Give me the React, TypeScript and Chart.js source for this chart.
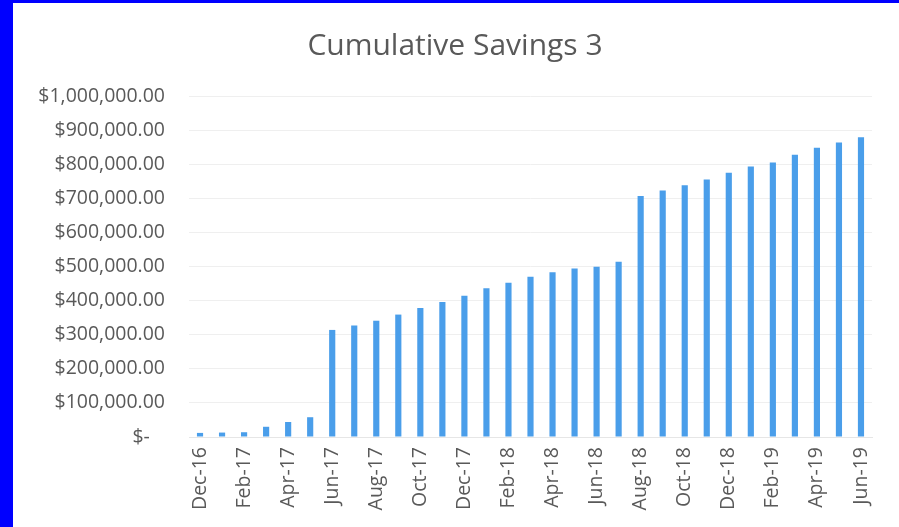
import React, { useEffect, useRef } from "react";
import { Chart, registerables } from "chart.js";

Chart.register(...registerables);

const months: string[] = [
  "Dec-16", "Jan-17", "Feb-17", "Mar-17", "Apr-17", "May-17", "Jun-17", "Jul-17",
  "Aug-17", "Sep-17", "Oct-17", "Nov-17", "Dec-17", "Jan-18", "Feb-18", "Mar-18",
  "Apr-18", "May-18", "Jun-18", "Jul-18", "Aug-18", "Sep-18", "Oct-18", "Nov-18",
  "Dec-18", "Jan-19", "Feb-19", "Mar-19", "Apr-19", "May-19", "Jun-19",
];

const savings: number[] = [
  12000, 13000, 14000, 30000, 44000, 58000, 314000, 327000,
  341000, 359000, 378000, 396000, 414000, 436000, 452000, 470000,
  483000, 494000, 499000, 514000, 707000, 723000, 738000, 755000,
  775000, 793000, 805000, 828000, 848000, 864000, 879000,
];

const yMin = 0;
const yMax = 1000000;
const yStep = 100000;

const titleText = "Cumulative Savings 3";

function fmtMoney(v: number): string {
  if (v === 0) return "$-   ";
  return "$" + v.toLocaleString("en-US", { minimumFractionDigits: 2, maximumFractionDigits: 2 });
}

export default function App() {
  const ref = useRef<HTMLCanvasElement | null>(null);

  useEffect(() => {
    if (!ref.current) return;
    const chart = new Chart(ref.current, {
      type: "bar",
      data: {
        labels: months,
        datasets: [
          {
            data: savings,
            backgroundColor: "#4a9eea",
            borderWidth: 0,
            barPercentage: 0.28,
            categoryPercentage: 1,
          },
        ],
      },
      options: {
        animation: false,
        responsive: false,
        maintainAspectRatio: false,
        layout: { padding: { left: 25, right: 27, top: 0, bottom: 0 } },
        plugins: {
          legend: { display: false },
          tooltip: { enabled: false },
          title: {
            display: true,
            text: titleText,
            color: "#595959",
            font: { family: "'Open Sans'", size: 30, weight: "normal", lineHeight: 1.2 },
            padding: { top: 25, bottom: 32 },
          },
        },
        scales: {
          x: {
            grid: { display: false, drawTicks: false },
            border: { display: true, color: "#e6e6e6" },
            afterFit: (scale: any) => {
              scale.height = 90;
            },
            ticks: {
              autoSkip: false,
              maxRotation: 90,
              minRotation: 90,
              padding: 10,
              color: "#595959",
              font: { family: "'Open Sans'", size: 19.5 },
              callback: (_v: any, i: number) => (i % 2 === 0 ? months[i] : ""),
            },
          },
          y: {
            min: yMin,
            max: yMax,
            grid: { color: "#efefef", drawTicks: false },
            border: { display: false },
            afterFit: (scale: any) => {
              scale.width = 151;
            },
            ticks: {
              stepSize: yStep,
              padding: 24,
              color: "#595959",
              font: { family: "'Open Sans'", size: 19.5 },
              callback: (v: any) => fmtMoney(Number(v)),
            },
          },
        },
      },
    });
    return () => chart.destroy();
  }, []);

  return (
    <div style={{ position: "fixed", left: 0, top: 0, width: 899, height: 527, background: "#0000ff", overflow: "hidden" }}>
      <div style={{ position: "absolute", left: 13, top: 3, width: 886, height: 524, background: "#ffffff" }}>
        <canvas ref={ref} width={886} height={524} style={{ display: "block", width: 886, height: 524 }} />
      </div>
    </div>
  );
}
